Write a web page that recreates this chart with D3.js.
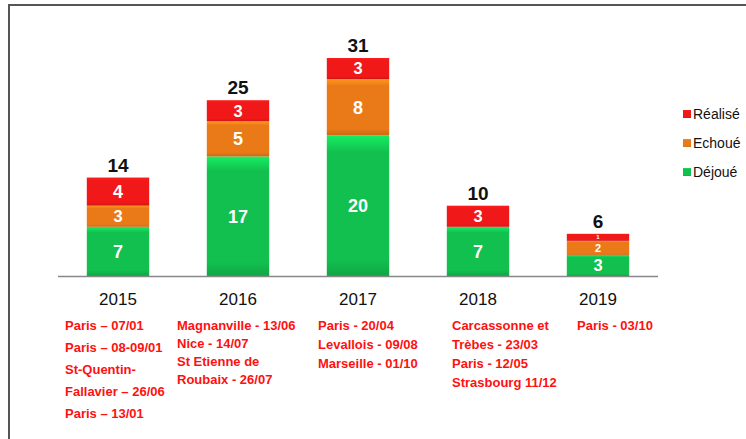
<!DOCTYPE html>
<html>
<head>
<meta charset="utf-8">
<script src="https://cdn.jsdelivr.net/npm/d3@7"></script>
<style>
  body { margin: 0; background: #fff; }
  svg text { font-family: "Liberation Sans", Arial, sans-serif; }
</style>
</head>
<body>
<div id="chart"></div>
<script>
(function() {
  var years = ["2015", "2016", "2017", "2018", "2019"];
  var dejoue = [7, 17, 20, 7, 3];
  var echoue = [3, 5, 8, 0, 2];
  var realise = [4, 3, 3, 3, 1];
  var seriesNames = ["Déjoué", "Echoué", "Réalisé"];
  var seriesColors = ["#12c04f", "#ea7a18", "#f01818"];
  var legendOrder = ["Réalisé", "Echoué", "Déjoué"];
  var attacks = [
    ["Paris – 07/01", "Paris – 08-09/01", "St-Quentin-", "Fallavier – 26/06", "Paris – 13/01"],
    ["Magnanville - 13/06", "Nice - 14/07", "St Etienne de", "Roubaix - 26/07"],
    ["Paris - 20/04", "Levallois - 09/08", "Marseille - 01/10"],
    ["Carcassonne et", "Trèbes - 23/03", "Paris - 12/05", "Strasbourg 11/12"],
    ["Paris - 03/10"]
  ];
  var noteLeft = [65, 177, 318, 452, 577];
  var noteLineGap = [22, 18, 19, 19, 19];

  var outerWidth = 746, outerHeight = 439;
  var baseY = 276;

  var svg = d3.select("#chart").append("svg")
      .attr("width", outerWidth)
      .attr("height", outerHeight);

  // frame (only top and left edges show)
  svg.append("path")
      .attr("d", "M9,439V5H746")
      .attr("fill", "none")
      .attr("stroke", "#555")
      .attr("stroke-width", 2);

  var x = d3.scaleBand()
      .domain(years)
      .range([58, 658])
      .paddingInner(0.48)
      .paddingOuter(0.24);

  var y = d3.scaleLinear()
      .domain([0, 31])
      .range([baseY, 58]);

  var rows = years.map((d, i) => ({
    year: d, "Déjoué": dejoue[i], "Echoué": echoue[i], "Réalisé": realise[i]
  }));
  var stack = d3.stack().keys(seriesNames)(rows);

  var defs = svg.append("defs");
  seriesColors.forEach((c, i) => {
    var g = defs.append("linearGradient")
        .attr("id", "grad" + i)
        .attr("x1", 0).attr("x2", 0).attr("y1", 0).attr("y2", 1);
    g.append("stop").attr("offset", "0%").attr("stop-color", d3.color(c).brighter(0.6));
    g.append("stop").attr("offset", "12%").attr("stop-color", c);
    g.append("stop").attr("offset", "88%").attr("stop-color", c);
    g.append("stop").attr("offset", "100%").attr("stop-color", d3.color(c).darker(0.4));
  });

  var layers = svg.append("g")
    .selectAll("g")
    .data(stack)
    .join("g")
      .attr("fill", (d, i) => "url(#grad" + i + ")");

  layers.selectAll("rect")
    .data(d => d.filter(p => p[1] > p[0]))
    .join("rect")
      .attr("x", d => x(d.data.year))
      .attr("width", x.bandwidth())
      .attr("y", d => y(d[1]))
      .attr("height", d => y(d[0]) - y(d[1]));

  // segment labels shrink to fit thin segments
  var labelSize = d => Math.min(18, Math.max(6, (y(d[0]) - y(d[1])) * 0.78));

  layers.selectAll("text")
    .data(d => d.filter(p => p[1] > p[0]))
    .join("text")
      .attr("x", d => x(d.data.year) + x.bandwidth() / 2)
      .attr("y", d => (y(d[0]) + y(d[1])) / 2)
      .attr("dy", "0.36em")
      .attr("text-anchor", "middle")
      .attr("fill", "#fff")
      .attr("font-size", d => labelSize(d) + "px")
      .attr("font-weight", "bold")
      .text(d => d[1] - d[0]);

  // totals
  svg.append("g")
    .selectAll("text")
    .data(rows)
    .join("text")
      .attr("x", d => x(d.year) + x.bandwidth() / 2)
      .attr("y", d => y(d["Déjoué"] + d["Echoué"] + d["Réalisé"]) - 6)
      .attr("text-anchor", "middle")
      .attr("font-size", "19px")
      .attr("font-weight", "bold")
      .attr("fill", "#111")
      .text(d => d["Déjoué"] + d["Echoué"] + d["Réalisé"]);

  // axis line
  svg.append("line")
      .attr("x1", x.range()[0]).attr("x2", x.range()[1])
      .attr("y1", baseY + 0.5).attr("y2", baseY + 0.5)
      .attr("stroke", "#888")
      .attr("stroke-width", 1.5);

  svg.append("g")
    .selectAll("text")
    .data(years)
    .join("text")
      .attr("x", d => x(d) + x.bandwidth() / 2)
      .attr("y", 305)
      .attr("text-anchor", "middle")
      .attr("font-size", "17px")
      .attr("fill", "#111")
      .text(d => d);

  // red notes under each year
  attacks.forEach((lines, i) => {
    svg.append("g")
      .selectAll("text")
      .data(lines)
      .join("text")
        .attr("x", noteLeft[i])
        .attr("y", (d, j) => 330 + j * noteLineGap[i])
        .attr("font-size", "13px")
        .attr("font-weight", "bold")
        .attr("fill", "#ff1010")
        .text(d => d);
  });

  // legend
  var legend = svg.append("g")
    .selectAll("g")
    .data(legendOrder)
    .join("g")
      .attr("transform", (d, i) => `translate(683, ${110 + i * 29})`);

  legend.append("rect")
      .attr("width", 8).attr("height", 8)
      .attr("fill", d => "url(#grad" + seriesNames.indexOf(d) + ")");

  legend.append("text")
      .attr("x", 10)
      .attr("y", 4)
      .attr("dy", "0.36em")
      .attr("font-size", "14px")
      .attr("fill", "#111")
      .text(d => d);
})();
</script>
</body>
</html>
